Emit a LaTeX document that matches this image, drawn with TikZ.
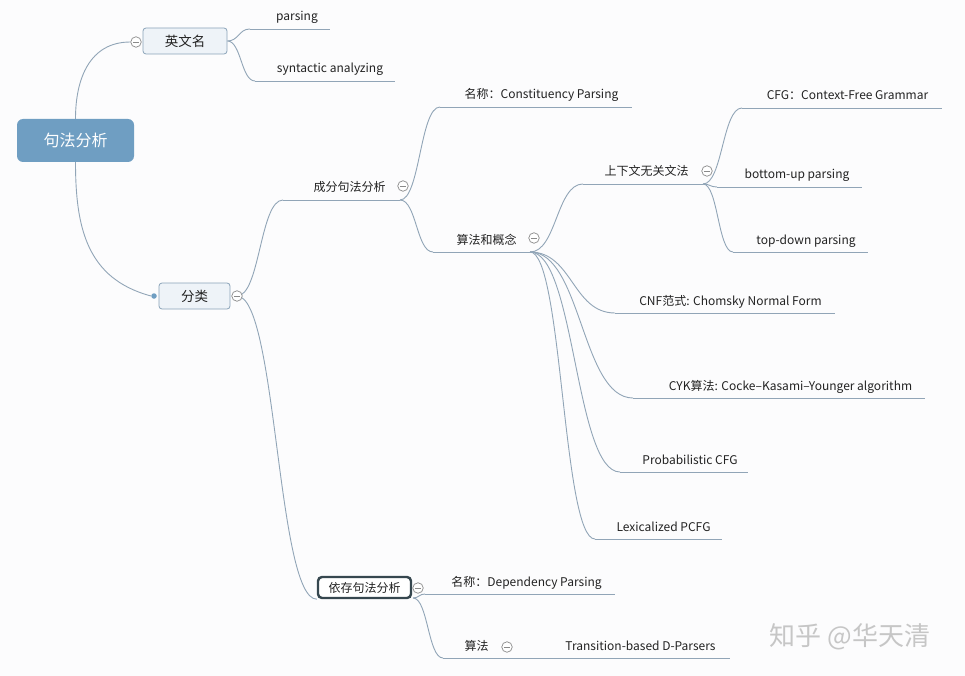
\documentclass[tikz,border=0pt]{standalone}
\usepackage{fontspec}
\setmainfont{Noto Sans CJK SC}
\usetikzlibrary{calc}
\pgfdeclarelayer{canvas}
\pgfdeclarelayer{lines}
\pgfsetlayers{canvas,lines,main}
\definecolor{linec}{HTML}{91A5B7}
\definecolor{boxfill}{HTML}{EEF3F8}
\definecolor{boxline}{HTML}{8AA3B8}
\definecolor{rootc}{HTML}{6F9EC2}
\definecolor{foldc}{HTML}{8A8A8A}
\definecolor{darkbox}{HTML}{36474F}
\definecolor{bgc}{HTML}{FCFCFD}
\definecolor{txt}{HTML}{222222}
\definecolor{wmark}{HTML}{C6C6C6}
\begin{document}
\begin{tikzpicture}[x=1pt,y=-1pt,
  conn/.style={draw=linec, line width=0.9pt},
  xcurve/.style={to path={let \p1=(\tikztostart), \p2=(\tikztotarget), \n1={(\x1+\x2)/2} in .. controls (\n1,\y1) and (\n1,\y2) .. (\tikztotarget)}},
  leaf/.style={font=\fontsize{12}{14}\selectfont, text=txt, inner sep=0pt, anchor=base},
  subbox/.style={draw=boxline, line width=0.8pt, fill=boxfill, rounded corners=3pt, font=\fontsize{13.5}{16}\selectfont, text=txt, inner sep=0pt},
  rootbox/.style={fill=rootc, rounded corners=6pt, font=\fontsize{16}{19}\selectfont, text=white, inner sep=0pt, minimum width=117pt, minimum height=43pt},
  selbox/.style={draw=darkbox, line width=2.4pt, fill=white, rounded corners=4pt, font=\fontsize{12}{14}\selectfont, text=txt, inner sep=0pt, minimum width=93pt, minimum height=21pt},
  fold/.style={circle, draw=foldc, line width=0.7pt, fill=white, minimum size=10.5pt, inner sep=0pt,
    path picture={\draw[foldc, line width=0.7pt] ([xshift=-3.2pt]path picture bounding box.center) -- ([xshift=3.2pt]path picture bounding box.center);}},
  bluedot/.style={circle, fill=rootc, minimum size=5.5pt, inner sep=0pt},
  wm/.style={font=\fontsize{26}{30}\selectfont, text=wmark, inner sep=0pt}
]
\begin{pgfonlayer}{canvas}
\fill[bgc] (0,0) rectangle (965,676);
\end{pgfonlayer}
\useasboundingbox (0,0) rectangle (965,676);

% main nodes
\node[rootbox] (root) at (75.5,140.5) {句法分析};
\node[subbox, minimum width=84pt, minimum height=26pt] (en) at (185,41) {英文名};
\node[subbox, minimum width=71pt, minimum height=26pt] (fl) at (194.5,296) {分类};
\node[selbox] (yc) at (364.5,587.5) {依存句法分析};

% fold markers and dot
\node[fold] (enF) at (136,42) {};
\node[fold] (flF) at (237,296) {};
\node[bluedot] (flD) at (154,296) {};
\node[fold] (cfF) at (403,186) {};
\node[fold] (sfF) at (534,238) {};
\node[fold] (sxF) at (707,171) {};
\node[fold] (ycF) at (418,588) {};
\node[fold] (saF) at (507,647) {};

% underline end points
\coordinate (parA) at (250,29);  \coordinate (parB) at (330,29);
\coordinate (synA) at (255,81);  \coordinate (synB) at (395,81);
\coordinate (mcA) at (440,107);  \coordinate (mcB) at (632,107);
\coordinate (cfA) at (283,200);  \coordinate (cfB) at (400,200);
\coordinate (sfA) at (433,252);  \coordinate (sfB) at (530,252);
\coordinate (sxA) at (583,184);  \coordinate (sxB) at (703,184);
\coordinate (cfgA) at (742,108); \coordinate (cfgB) at (942,108);
\coordinate (buA) at (717,187);  \coordinate (buB) at (862,187);
\coordinate (tdA) at (733,252);  \coordinate (tdB) at (868,252);
\coordinate (cnfA) at (615,313); \coordinate (cnfB) at (835,313);
\coordinate (cykA) at (633,398); \coordinate (cykB) at (925,398);
\coordinate (prA) at (620,472);  \coordinate (prB) at (748,472);
\coordinate (lxA) at (595,539);  \coordinate (lxB) at (722,539);
\coordinate (mdA) at (425,594);  \coordinate (mdB) at (615,594);
\coordinate (saA) at (443,658);  \coordinate (saB) at (512,658);
\coordinate (trA) at (540,658);  \coordinate (trB) at (730,658);
\coordinate (ycOut) at (413,598);

\begin{pgfonlayer}{lines}
% underlines
\foreach \a/\b in {parA/parB, synA/synB, mcA/mcB, cfA/cfB, sfA/sfB, sxA/sxB, cfgA/cfgB, buA/buB, tdA/tdB, cnfA/cnfB, cykA/cykB, prA/prB, lxA/lxB, mdA/mdB, saA/saB, trA/trB}
  \draw[conn] (\a) -- (\b);
% connectors
\draw[conn] (root.north) to[out=90,in=180,looseness=1.1] (enF.west);
\draw[conn] (root.south) to[out=-90,in=165,looseness=1.1] (flD.west);
\draw[conn] (en.east) to[xcurve] (parA);
\draw[conn] (en.east) to[xcurve] (synA);
\draw[conn] (flF.center) to[xcurve] (cfA);
\draw[conn] (flF.center) to[xcurve] (yc.south west);
\draw[conn] (cfB) to[xcurve] (mcA);
\draw[conn] (cfB) to[xcurve] (sfA);
\draw[conn] (sfB) to[xcurve] (sxA);
\draw[conn] (sfB) to[xcurve] (cnfA);
\draw[conn] (sfB) to[xcurve] (cykA);
\draw[conn] (sfB) to[xcurve] (prA);
\draw[conn] (sfB) to[xcurve] (lxA);
\draw[conn] (sxB) to[xcurve] (cfgA);
\draw[conn] (sxB) to[xcurve] (buA);
\draw[conn] (sxB) to[xcurve] (tdA);
\draw[conn] (ycOut) to[xcurve] (mdA);
\draw[conn] (ycOut) to[xcurve] (saA);
\draw[conn] (saB) to[xcurve] (trA);
\end{pgfonlayer}

% leaf texts
\node[leaf] (par) at (297,21) {parsing};
\node[leaf] (syn) at (330,73) {syntactic analyzing};
\node[leaf] (mc) at (541.5,99) {名称：Constituency Parsing};
\node[leaf] (cf) at (349.5,192) {成分句法分析};
\node[leaf] (sf) at (486.5,244) {算法和概念};
\node[leaf] (sx) at (646.5,176) {上下文无关文法};
\node[leaf] (cfg) at (847.5,100) {CFG：Context-Free Grammar};
\node[leaf] (bu) at (797,179) {bottom-up parsing};
\node[leaf] (td) at (806,244) {top-down parsing};
\node[leaf] (cnf) at (730.5,305) {CNF范式: Chomsky Normal Form};
\node[leaf] (cyk) at (790.5,390) {CYK算法: Cocke–Kasami–Younger algorithm};
\node[leaf] (pr) at (690,464) {Probabilistic CFG};
\node[leaf] (lx) at (663.5,531) {Lexicalized PCFG};
\node[leaf] (md) at (526.5,586) {名称：Dependency Parsing};
\node[leaf] (sa) at (476.5,650) {算法};
\node[leaf] (tr) at (640.5,650) {Transition-based D-Parsers};

% watermark
\node[wm] (wmk) at (850,637) {知乎 @华天清};
\end{tikzpicture}
\end{document}
